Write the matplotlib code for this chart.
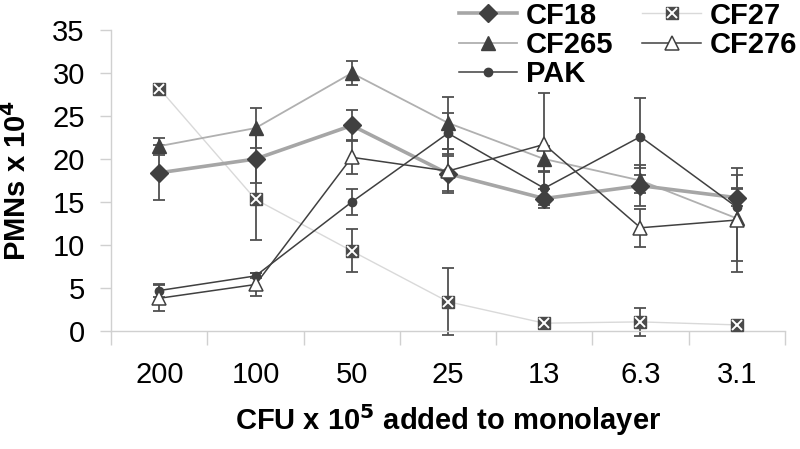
import matplotlib
matplotlib.use("Agg")
import matplotlib.pyplot as plt
from matplotlib.legend_handler import HandlerTuple
import numpy as np

plt.rcParams['font.family'] = ['Liberation Sans', 'DejaVu Sans']

categories = ["200", "100", "50", "25", "13", "6.3", "3.1"]

cf18 = [18.4, 20.0, 23.9, 18.3, 15.4, 16.9, 15.5]
cf18_err = [3.2, 2.8, 1.8, 2.0, 1.1, 2.4, 1.0]

cf265 = [21.5, 23.6, 30.0, 24.2, 20.0, 17.5, 13.1]
cf265_err = [1.0, 2.3, 1.4, 3.0, 1.5, 1.5, 5.0]

pak = [4.7, 6.4, 15.0, 23.0, 16.6, 22.6, 14.4]
pak_err = [0.7, 0.3, 1.55, 2.4, 2.0, 4.5, 2.2]

cf27 = [28.2, 15.3, 9.3, 3.4, 0.9, 1.05, 0.7]
cf27_err = [0.0, 4.7, 2.5, 3.9, 0.3, 1.6, 0.2]

cf276 = [3.8, 5.4, 20.2, 18.6, 21.7, 12.0, 12.9]
cf276_err = [1.5, 1.3, 2.0, 2.6, 6.0, 2.2, 6.0]

x = np.arange(len(categories))

fig = plt.figure(figsize=(8, 4.49), dpi=100)
ax = fig.add_axes([0.139, 0.263, 0.842, 0.670])

dark = '#404040'
ecol = '#505050'
ekw = dict(ecolor=ecol, elinewidth=1.3, capsize=4.5, capthick=1.3, clip_on=False)

# error bars
for vals, errs in [(cf18, cf18_err), (cf265, cf265_err), (pak, pak_err), (cf27, cf27_err), (cf276, cf276_err)]:
    ax.errorbar(x, vals, yerr=errs, fmt='none', zorder=2, **ekw)

# CF27: very light line, square with white x
l27, = ax.plot(x, cf27, color='#d9d9d9', lw=1.0, marker='s', ms=9, mfc='#4a4a4a', mec='#4a4a4a', zorder=3, clip_on=False)
x27, = ax.plot(x, cf27, ls='none', marker='x', ms=6.5, mew=1.4, color='white', zorder=3.1, clip_on=False)

l265, = ax.plot(x, cf265, color='#b0b0b0', lw=1.3, marker='^', ms=10, mfc=dark, mec=dark, zorder=4)
l18, = ax.plot(x, cf18, color='#a6a6a6', lw=2.6, marker='D', ms=9, mfc=dark, mec=dark, zorder=4)
lpak, = ax.plot(x, pak, color=dark, lw=1.1, marker='o', ms=6, mfc=dark, mec=dark, zorder=5)
l276, = ax.plot(x, cf276, color=dark, lw=1.1, marker='^', ms=10, mfc='white', mec=dark, mew=1.1, zorder=5)

ax.set_xlim(-0.5, 6.5)
ax.set_ylim(0, 35)
ax.set_yticks(np.arange(0, 36, 5))
ax.set_xticks(x)
ax.set_xticklabels(categories)
ax.set_xticks(np.arange(-0.5, 7.0, 1.0), minor=True)

for s in ['top', 'right']:
    ax.spines[s].set_visible(False)
for s in ['left', 'bottom']:
    ax.spines[s].set_color('#d0d0d0')
    ax.spines[s].set_linewidth(1.0)

ax.tick_params(axis='x', which='major', length=0, pad=22, labelsize=21)
ax.tick_params(axis='x', which='minor', length=10, color='#d0d0d0', width=1.0)
ax.tick_params(axis='y', which='major', length=8, color='#d0d0d0', width=1.0, pad=11, labelsize=21)

ax.set_ylabel('PMNs x 10$^\\mathbf{4}$', fontsize=21, fontweight='bold')
ax.yaxis.set_label_coords(-0.118, 0.5)
ax.set_xlabel('CFU x 10$^\\mathbf{5}$ added to monolayer', fontsize=21, fontweight='bold', labelpad=9)

h27 = (l27, x27)
leg = ax.legend([l18, l265, lpak, h27, l276], ['CF18', 'CF265', 'PAK', 'CF27', 'CF276'],
                ncol=2, loc='upper right', bbox_to_anchor=(1.018, 1.095), frameon=False,
                prop={'weight': 'bold', 'size': 21}, handlelength=2.0, handletextpad=0.3,
                columnspacing=1.0, labelspacing=0.05, borderaxespad=0.0, borderpad=0.0,
                handler_map={tuple: HandlerTuple(ndivide=1)})

fig.savefig('out.png', dpi=100)
